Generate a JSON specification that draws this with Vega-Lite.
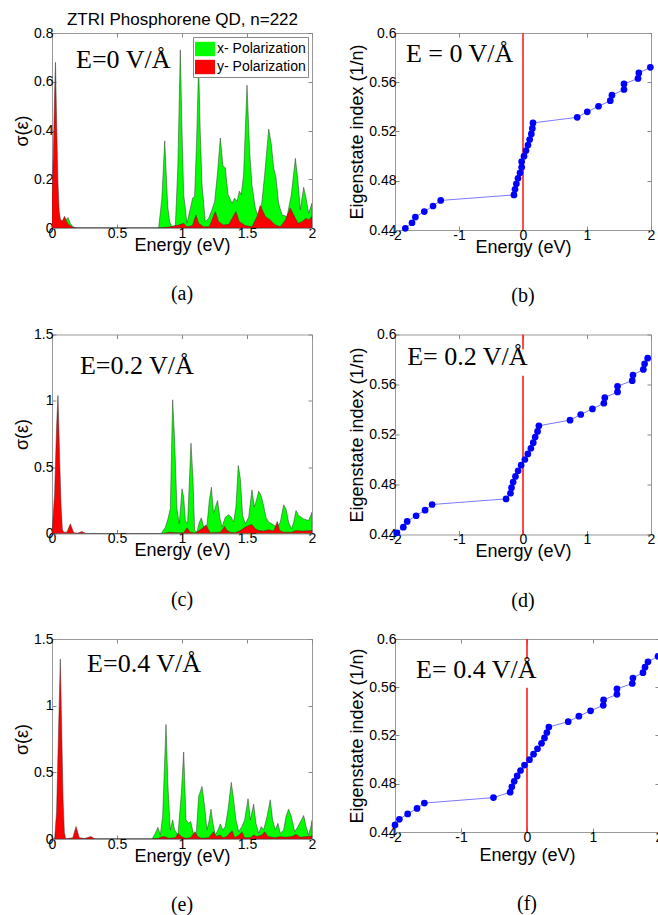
{
"$schema": "https://vega.github.io/schema/vega-lite/v6.json",
"padding": {"left": 13, "top": 10, "right": 0, "bottom": 0},
"background": "white",
"config": {
  "font": "Liberation Sans",
  "view": {"stroke": "#999999", "strokeWidth": 1},
  "axis": {"domain": false, "grid": false, "tickSize": -4, "tickColor": "#888888", "labelPadding": 3, "labelFontSize": 14, "labelFont": "Liberation Sans", "labelColor": "#000000", "titleFontSize": 18, "titleFontWeight": "normal", "titleFont": "Liberation Sans", "titleColor": "#000000", "labelFlush": false, "labelOverlap": false, "titlePadding": 2},
  "axisX": {"titlePadding": -4, "labelPadding": 2},
  "title": {"fontWeight": "normal", "color": "#000000"}
},
"columns": 2,
"bounds": "flush",
"spacing": {"row": 104.5, "column": 83},
"resolve": {"scale": {"color": "independent"}, "legend": {"color": "independent"}},
"datasets": {
  "A": [
    {"p":"x","e":0,"s":0},{"p":"x","e":0.08,"s":0.01},{"p":"x","e":0.1,"s":0.03},{"p":"x","e":0.123,"s":0.043},{"p":"x","e":0.14,"s":0.02},{"p":"x","e":0.16,"s":0.005},{"p":"x","e":0.19,"s":0},{"p":"x","e":0.82,"s":0},{"p":"x","e":0.845,"s":0.12},{"p":"x","e":0.867,"s":0.358},{"p":"x","e":0.89,"s":0.09},{"p":"x","e":0.905,"s":0.026},{"p":"x","e":0.923,"s":0.005},{"p":"x","e":0.949,"s":0.01},{"p":"x","e":0.968,"s":0.25},{"p":"x","e":0.987,"s":0.731},{"p":"x","e":1.0,"s":0.4},{"p":"x","e":1.013,"s":0.137},{"p":"x","e":1.038,"s":0.02},{"p":"x","e":1.064,"s":0.08},{"p":"x","e":1.082,"s":0.123},{"p":"x","e":1.097,"s":0.13},{"p":"x","e":1.112,"s":0.35},{"p":"x","e":1.128,"s":0.67},{"p":"x","e":1.14,"s":0.4},{"p":"x","e":1.154,"s":0.178},{"p":"x","e":1.179,"s":0.026},{"p":"x","e":1.205,"s":0.04},{"p":"x","e":1.231,"s":0.075},{"p":"x","e":1.251,"s":0.109},{"p":"x","e":1.272,"s":0.22},{"p":"x","e":1.295,"s":0.369},{"p":"x","e":1.315,"s":0.254},{"p":"x","e":1.333,"s":0.247},{"p":"x","e":1.354,"s":0.137},{"p":"x","e":1.385,"s":0.102},{"p":"x","e":1.405,"s":0.123},{"p":"x","e":1.423,"s":0.109},{"p":"x","e":1.441,"s":0.151},{"p":"x","e":1.456,"s":0.137},{"p":"x","e":1.474,"s":0.22},{"p":"x","e":1.5,"s":0.586},{"p":"x","e":1.52,"s":0.316},{"p":"x","e":1.538,"s":0.178},{"p":"x","e":1.564,"s":0.082},{"p":"x","e":1.585,"s":0.047},{"p":"x","e":1.61,"s":0.082},{"p":"x","e":1.636,"s":0.22},{"p":"x","e":1.667,"s":0.406},{"p":"x","e":1.687,"s":0.344},{"p":"x","e":1.705,"s":0.247},{"p":"x","e":1.723,"s":0.206},{"p":"x","e":1.743,"s":0.102},{"p":"x","e":1.769,"s":0.054},{"p":"x","e":1.808,"s":0.047},{"p":"x","e":1.841,"s":0.137},{"p":"x","e":1.872,"s":0.286},{"p":"x","e":1.892,"s":0.192},{"p":"x","e":1.91,"s":0.075},{"p":"x","e":1.936,"s":0.167},{"p":"x","e":1.954,"s":0.123},{"p":"x","e":1.974,"s":0.061},{"p":"x","e":2.0,"s":0.102},
    {"p":"y","e":0,"s":0.14},{"p":"y","e":0.01,"s":0.3},{"p":"y","e":0.02,"s":0.55},{"p":"y","e":0.027,"s":0.68},{"p":"y","e":0.035,"s":0.45},{"p":"y","e":0.045,"s":0.2},{"p":"y","e":0.055,"s":0.07},{"p":"y","e":0.065,"s":0.035},{"p":"y","e":0.08,"s":0.03},{"p":"y","e":0.097,"s":0.048},{"p":"y","e":0.11,"s":0.03},{"p":"y","e":0.125,"s":0.015},{"p":"y","e":0.14,"s":0.01},{"p":"y","e":0.16,"s":0.003},{"p":"y","e":0.18,"s":0},{"p":"y","e":0.82,"s":0},{"p":"y","e":0.9,"s":0.004},{"p":"y","e":0.974,"s":0.012},{"p":"y","e":1.013,"s":0.019},{"p":"y","e":1.038,"s":0.005},{"p":"y","e":1.08,"s":0.01},{"p":"y","e":1.107,"s":0.054},{"p":"y","e":1.128,"s":0.019},{"p":"y","e":1.166,"s":0.005},{"p":"y","e":1.21,"s":0.005},{"p":"y","e":1.256,"s":0.068},{"p":"y","e":1.282,"s":0.026},{"p":"y","e":1.32,"s":0.012},{"p":"y","e":1.36,"s":0.015},{"p":"y","e":1.415,"s":0.068},{"p":"y","e":1.441,"s":0.026},{"p":"y","e":1.487,"s":0.01},{"p":"y","e":1.538,"s":0.005},{"p":"y","e":1.577,"s":0.047},{"p":"y","e":1.602,"s":0.093},{"p":"y","e":1.623,"s":0.068},{"p":"y","e":1.641,"s":0.047},{"p":"y","e":1.679,"s":0.033},{"p":"y","e":1.718,"s":0.012},{"p":"y","e":1.756,"s":0.005},{"p":"y","e":1.795,"s":0.033},{"p":"y","e":1.833,"s":0.082},{"p":"y","e":1.859,"s":0.054},{"p":"y","e":1.892,"s":0.019},{"p":"y","e":1.923,"s":0.026},{"p":"y","e":1.954,"s":0.04},{"p":"y","e":1.974,"s":0.033},{"p":"y","e":2.0,"s":0.047}
  ],
  "C": [
    {"p":"x","e":0,"s":0},{"p":"x","e":0.84,"s":0},{"p":"x","e":0.872,"s":0.048},{"p":"x","e":0.892,"s":0.11},{"p":"x","e":0.91,"s":0.186},{"p":"x","e":0.928,"s":1.008},{"p":"x","e":0.943,"s":0.714},{"p":"x","e":0.961,"s":0.186},{"p":"x","e":0.979,"s":0.073},{"p":"x","e":1.0,"s":0.337},{"p":"x","e":1.013,"s":0.274},{"p":"x","e":1.026,"s":0.098},{"p":"x","e":1.043,"s":0.073},{"p":"x","e":1.069,"s":0.681},{"p":"x","e":1.084,"s":0.425},{"p":"x","e":1.097,"s":0.023},{"p":"x","e":1.115,"s":0.01},{"p":"x","e":1.133,"s":0.085},{"p":"x","e":1.149,"s":0.118},{"p":"x","e":1.167,"s":0.048},{"p":"x","e":1.192,"s":0.06},{"p":"x","e":1.21,"s":0.249},{"p":"x","e":1.226,"s":0.349},{"p":"x","e":1.243,"s":0.15},{"p":"x","e":1.261,"s":0.212},{"p":"x","e":1.274,"s":0.249},{"p":"x","e":1.29,"s":0.123},{"p":"x","e":1.308,"s":0.048},{"p":"x","e":1.333,"s":0.123},{"p":"x","e":1.359,"s":0.141},{"p":"x","e":1.379,"s":0.123},{"p":"x","e":1.397,"s":0.085},{"p":"x","e":1.415,"s":0.2},{"p":"x","e":1.433,"s":0.513},{"p":"x","e":1.449,"s":0.412},{"p":"x","e":1.466,"s":0.136},{"p":"x","e":1.487,"s":0.073},{"p":"x","e":1.513,"s":0.123},{"p":"x","e":1.538,"s":0.329},{"p":"x","e":1.556,"s":0.2},{"p":"x","e":1.572,"s":0.249},{"p":"x","e":1.59,"s":0.319},{"p":"x","e":1.608,"s":0.287},{"p":"x","e":1.628,"s":0.211},{"p":"x","e":1.646,"s":0.123},{"p":"x","e":1.667,"s":0.085},{"p":"x","e":1.692,"s":0.073},{"p":"x","e":1.731,"s":0.048},{"p":"x","e":1.756,"s":0.085},{"p":"x","e":1.782,"s":0.216},{"p":"x","e":1.8,"s":0.186},{"p":"x","e":1.82,"s":0.085},{"p":"x","e":1.841,"s":0.035},{"p":"x","e":1.859,"s":0.085},{"p":"x","e":1.877,"s":0.173},{"p":"x","e":1.897,"s":0.136},{"p":"x","e":1.936,"s":0.11},{"p":"x","e":1.974,"s":0.098},{"p":"x","e":1.995,"s":0.148},{"p":"x","e":2.0,"s":0.16},
    {"p":"y","e":0,"s":0},{"p":"y","e":0.02,"s":0.3},{"p":"y","e":0.035,"s":0.8},{"p":"y","e":0.046,"s":1.04},{"p":"y","e":0.058,"s":0.6},{"p":"y","e":0.07,"s":0.2},{"p":"y","e":0.08,"s":0.03},{"p":"y","e":0.09,"s":0.01},{"p":"y","e":0.115,"s":0.01},{"p":"y","e":0.141,"s":0.073},{"p":"y","e":0.167,"s":0.005},{"p":"y","e":0.2,"s":0.003},{"p":"y","e":0.23,"s":0.015},{"p":"y","e":0.26,"s":0},{"p":"y","e":0.84,"s":0},{"p":"y","e":0.87,"s":0.003},{"p":"y","e":0.91,"s":0.01},{"p":"y","e":0.95,"s":0.005},{"p":"y","e":1.013,"s":0.005},{"p":"y","e":1.038,"s":0.043},{"p":"y","e":1.064,"s":0.01},{"p":"y","e":1.1,"s":0.003},{"p":"y","e":1.141,"s":0.028},{"p":"y","e":1.167,"s":0.048},{"p":"y","e":1.185,"s":0.065},{"p":"y","e":1.2,"s":0.035},{"p":"y","e":1.218,"s":0.005},{"p":"y","e":1.295,"s":0.01},{"p":"y","e":1.328,"s":0.053},{"p":"y","e":1.346,"s":0.023},{"p":"y","e":1.37,"s":0.01},{"p":"y","e":1.41,"s":0.005},{"p":"y","e":1.449,"s":0.023},{"p":"y","e":1.487,"s":0.048},{"p":"y","e":1.513,"s":0.06},{"p":"y","e":1.538,"s":0.068},{"p":"y","e":1.564,"s":0.035},{"p":"y","e":1.59,"s":0.023},{"p":"y","e":1.628,"s":0.018},{"p":"y","e":1.667,"s":0.028},{"p":"y","e":1.705,"s":0.018},{"p":"y","e":1.733,"s":0.09},{"p":"y","e":1.751,"s":0.023},{"p":"y","e":1.782,"s":0.01},{"p":"y","e":1.846,"s":0.01},{"p":"y","e":1.877,"s":0.023},{"p":"y","e":1.923,"s":0.018},{"p":"y","e":2.0,"s":0.023}
  ],
  "E": [
    {"p":"x","e":0,"s":0},{"p":"x","e":0.769,"s":0},{"p":"x","e":0.795,"s":0.043},{"p":"x","e":0.815,"s":0.088},{"p":"x","e":0.833,"s":0.03},{"p":"x","e":0.851,"s":0.168},{"p":"x","e":0.877,"s":0.859},{"p":"x","e":0.892,"s":0.394},{"p":"x","e":0.91,"s":0.068},{"p":"x","e":0.928,"s":0.143},{"p":"x","e":0.943,"s":0.068},{"p":"x","e":0.969,"s":0.03},{"p":"x","e":0.995,"s":0.344},{"p":"x","e":1.013,"s":0.653},{"p":"x","e":1.031,"s":0.143},{"p":"x","e":1.051,"s":0.118},{"p":"x","e":1.067,"s":0.131},{"p":"x","e":1.09,"s":0.03},{"p":"x","e":1.11,"s":0.043},{"p":"x","e":1.128,"s":0.319},{"p":"x","e":1.154,"s":0.394},{"p":"x","e":1.174,"s":0.244},{"p":"x","e":1.192,"s":0.068},{"p":"x","e":1.21,"s":0.143},{"p":"x","e":1.223,"s":0.224},{"p":"x","e":1.238,"s":0.118},{"p":"x","e":1.256,"s":0.03},{"p":"x","e":1.277,"s":0.068},{"p":"x","e":1.295,"s":0.113},{"p":"x","e":1.313,"s":0.068},{"p":"x","e":1.333,"s":0.093},{"p":"x","e":1.354,"s":0.219},{"p":"x","e":1.379,"s":0.425},{"p":"x","e":1.397,"s":0.294},{"p":"x","e":1.415,"s":0.143},{"p":"x","e":1.436,"s":0.055},{"p":"x","e":1.461,"s":0.093},{"p":"x","e":1.482,"s":0.143},{"p":"x","e":1.508,"s":0.302},{"p":"x","e":1.526,"s":0.143},{"p":"x","e":1.551,"s":0.261},{"p":"x","e":1.569,"s":0.118},{"p":"x","e":1.59,"s":0.043},{"p":"x","e":1.61,"s":0.093},{"p":"x","e":1.628,"s":0.068},{"p":"x","e":1.654,"s":0.168},{"p":"x","e":1.679,"s":0.294},{"p":"x","e":1.697,"s":0.143},{"p":"x","e":1.718,"s":0.068},{"p":"x","e":1.738,"s":0.118},{"p":"x","e":1.756,"s":0.043},{"p":"x","e":1.782,"s":0.068},{"p":"x","e":1.8,"s":0.168},{"p":"x","e":1.82,"s":0.224},{"p":"x","e":1.841,"s":0.168},{"p":"x","e":1.867,"s":0.055},{"p":"x","e":1.892,"s":0.093},{"p":"x","e":1.936,"s":0.176},{"p":"x","e":1.954,"s":0.093},{"p":"x","e":1.974,"s":0.03},{"p":"x","e":1.995,"s":0.106},{"p":"x","e":2.0,"s":0.14},
    {"p":"y","e":0,"s":0},{"p":"y","e":0.02,"s":0},{"p":"y","e":0.035,"s":0.2},{"p":"y","e":0.05,"s":0.8},{"p":"y","e":0.064,"s":1.35},{"p":"y","e":0.075,"s":0.8},{"p":"y","e":0.085,"s":0.3},{"p":"y","e":0.095,"s":0.05},{"p":"y","e":0.105,"s":0},{"p":"y","e":0.16,"s":0.01},{"p":"y","e":0.185,"s":0.093},{"p":"y","e":0.21,"s":0.01},{"p":"y","e":0.25,"s":0.003},{"p":"y","e":0.3,"s":0.018},{"p":"y","e":0.33,"s":0},{"p":"y","e":0.77,"s":0},{"p":"y","e":0.82,"s":0.005},{"p":"y","e":0.833,"s":0.013},{"p":"y","e":0.86,"s":0.018},{"p":"y","e":0.9,"s":0.005},{"p":"y","e":0.95,"s":0.01},{"p":"y","e":0.969,"s":0.043},{"p":"y","e":0.995,"s":0.018},{"p":"y","e":1.025,"s":0.005},{"p":"y","e":1.065,"s":0.01},{"p":"y","e":1.1,"s":0.055},{"p":"y","e":1.12,"s":0.018},{"p":"y","e":1.15,"s":0.005},{"p":"y","e":1.205,"s":0.01},{"p":"y","e":1.243,"s":0.055},{"p":"y","e":1.26,"s":0.018},{"p":"y","e":1.295,"s":0.03},{"p":"y","e":1.313,"s":0.01},{"p":"y","e":1.345,"s":0.018},{"p":"y","e":1.385,"s":0.063},{"p":"y","e":1.405,"s":0.01},{"p":"y","e":1.441,"s":0.03},{"p":"y","e":1.461,"s":0.055},{"p":"y","e":1.482,"s":0.01},{"p":"y","e":1.525,"s":0.01},{"p":"y","e":1.551,"s":0.03},{"p":"y","e":1.577,"s":0.018},{"p":"y","e":1.615,"s":0.03},{"p":"y","e":1.636,"s":0.055},{"p":"y","e":1.662,"s":0.018},{"p":"y","e":1.718,"s":0.01},{"p":"y","e":1.756,"s":0.018},{"p":"y","e":1.795,"s":0.013},{"p":"y","e":1.846,"s":0.018},{"p":"y","e":1.877,"s":0.035},{"p":"y","e":1.91,"s":0.013},{"p":"y","e":1.96,"s":0.018},{"p":"y","e":2.0,"s":0.023}
  ],
  "B": [
    {"e":-1.839,"n":0.4414},{"e":-1.734,"n":0.4459},{"e":-1.682,"n":0.4505},{"e":-1.542,"n":0.455},{"e":-1.406,"n":0.4595},{"e":-1.286,"n":0.464},{"e":-0.141,"n":0.4685},{"e":-0.125,"n":0.473},{"e":-0.104,"n":0.4775},{"e":-0.078,"n":0.482},{"e":-0.047,"n":0.4865},{"e":-0.021,"n":0.491},{"e":-0.021,"n":0.4955},{"e":0.016,"n":0.5},{"e":0.047,"n":0.5045},{"e":0.078,"n":0.509},{"e":0.104,"n":0.5135},{"e":0.13,"n":0.518},{"e":0.146,"n":0.5225},{"e":0.156,"n":0.527},{"e":0.847,"n":0.5315},{"e":1.004,"n":0.536},{"e":1.18,"n":0.5405},{"e":1.364,"n":0.545},{"e":1.39,"n":0.5495},{"e":1.578,"n":0.5541},{"e":1.578,"n":0.5586},{"e":1.797,"n":0.5631},{"e":1.81,"n":0.5676},{"e":1.99,"n":0.5721}
  ],
  "D": [
    {"e":-1.97,"n":0.4414},{"e":-1.87,"n":0.4459},{"e":-1.81,"n":0.4505},{"e":-1.67,"n":0.455},{"e":-1.53,"n":0.4595},{"e":-1.42,"n":0.464},{"e":-0.264,"n":0.4685},{"e":-0.196,"n":0.473},{"e":-0.18,"n":0.4775},{"e":-0.154,"n":0.482},{"e":-0.118,"n":0.4865},{"e":-0.076,"n":0.491},{"e":-0.029,"n":0.4955},{"e":0.029,"n":0.5},{"e":0.076,"n":0.5045},{"e":0.123,"n":0.509},{"e":0.16,"n":0.5135},{"e":0.19,"n":0.518},{"e":0.227,"n":0.5225},{"e":0.248,"n":0.527},{"e":0.735,"n":0.5315},{"e":0.902,"n":0.536},{"e":1.085,"n":0.5405},{"e":1.263,"n":0.545},{"e":1.278,"n":0.5495},{"e":1.477,"n":0.5541},{"e":1.477,"n":0.5586},{"e":1.707,"n":0.5631},{"e":1.718,"n":0.5676},{"e":1.88,"n":0.5721},{"e":1.9,"n":0.5766},{"e":1.948,"n":0.5811}
  ],
  "F": [
    {"e":-2.0,"n":0.4459},{"e":-1.934,"n":0.4505},{"e":-1.808,"n":0.455},{"e":-1.666,"n":0.4595},{"e":-1.555,"n":0.464},{"e":-0.508,"n":0.4685},{"e":-0.255,"n":0.473},{"e":-0.23,"n":0.4775},{"e":-0.194,"n":0.482},{"e":-0.149,"n":0.4865},{"e":-0.098,"n":0.491},{"e":-0.038,"n":0.4955},{"e":0.038,"n":0.5},{"e":0.099,"n":0.5045},{"e":0.159,"n":0.509},{"e":0.22,"n":0.5135},{"e":0.265,"n":0.518},{"e":0.301,"n":0.5225},{"e":0.331,"n":0.527},{"e":0.624,"n":0.5315},{"e":0.786,"n":0.536},{"e":0.963,"n":0.5405},{"e":1.155,"n":0.545},{"e":1.16,"n":0.5495},{"e":1.363,"n":0.5541},{"e":1.363,"n":0.5586},{"e":1.595,"n":0.5631},{"e":1.605,"n":0.5676},{"e":1.757,"n":0.5721},{"e":1.788,"n":0.5766},{"e":1.833,"n":0.5811},{"e":1.985,"n":0.5856}
  ]
},
"concat": [
  {
    "width": 260, "height": 195,
    "title": {"text": "(a)", "orient": "bottom", "font": "Liberation Serif", "fontSize": 20, "fontWeight": "normal", "offset": 30},
    "resolve": {"axis": {"x": "independent", "y": "independent"}},
    "layer": [
      {"data": {"name": "A"}, "mark": {"type": "area", "stroke": "#333333", "strokeWidth": 0.5, "clip": true},
       "encoding": {
         "x": {"field": "e", "type": "quantitative", "scale": {"domain": [0, 2], "nice": false}, "axis": {"values": [0, 0.5, 1, 1.5, 2], "format": "~g", "title": "Energy (eV)"}},
         "y": {"field": "s", "type": "quantitative", "stack": null, "scale": {"domain": [0, 0.8], "nice": false}, "axis": {"values": [0, 0.2, 0.4, 0.6, 0.8], "format": "~g", "title": "σ(ε)"}},
         "color": {"field": "p", "type": "nominal", "scale": {"domain": ["x", "y"], "range": ["#00ff00", "#ff0000"]},
           "legend": {"orient": "top-right", "offset": 4, "title": null, "labelExpr": "datum.label == 'x' ? 'x- Polarization' : 'y- Polarization'", "symbolType": "M-1,-0.72H1V0.72H-1Z", "symbolSize": 400, "symbolStrokeWidth": 0, "symbolOpacity": 1, "labelFontSize": 14, "labelFont": "Liberation Sans", "labelColor": "#000000", "strokeColor": "#888888", "fillColor": "white", "padding": 2, "rowPadding": 0, "labelOffset": 2, "symbolOffset": 0}}
       }},
      {"data": {"values": [{"e": 0.185, "s": 0.655, "t": "E=0 V/Å"}]}, "mark": {"type": "text", "font": "Liberation Serif", "fontSize": 26, "align": "left", "baseline": "alphabetic", "color": "#000000"},
       "encoding": {"x": {"field": "e", "type": "quantitative", "axis": {"orient": "top", "labels": false, "values": [0, 0.5, 1, 1.5, 2], "title": "ZTRI Phosphorene QD, n=222", "titleFontSize": 17, "titlePadding": 4}},
                    "y": {"field": "s", "type": "quantitative", "axis": {"orient": "right", "labels": false, "values": [0, 0.2, 0.4, 0.6, 0.8], "title": null}},
                    "text": {"field": "t"}}}
    ]
  },
  {
    "width": 256, "height": 197,
    "title": {"text": "(b)", "orient": "bottom", "font": "Liberation Serif", "fontSize": 20, "fontWeight": "normal", "offset": 30},
    "resolve": {"axis": {"x": "independent", "y": "independent"}},
    "layer": [
      {"data": {"values": [{"e": 0, "n": 0.44, "n2": 0.6}]}, "mark": {"type": "rule", "color": "#ff4d4d", "strokeWidth": 2},
       "encoding": {"x": {"field": "e", "type": "quantitative", "scale": {"domain": [-2, 2], "nice": false}, "axis": {"values": [-2, -1, 0, 1, 2], "labelExpr": "'' + datum.value", "title": "Energy (eV)"}},
                    "y": {"field": "n", "type": "quantitative", "scale": {"domain": [0.44, 0.6], "nice": false, "zero": false}, "axis": {"values": [0.44, 0.48, 0.52, 0.56, 0.6], "labelExpr": "'' + datum.value", "title": "Eigenstate index (1/n)"}},
                    "y2": {"field": "n2"}}},
      {"data": {"name": "B"}, "mark": {"type": "line", "color": "#7a7aff", "strokeWidth": 1},
       "encoding": {"x": {"field": "e", "type": "quantitative", "axis": null}, "y": {"field": "n", "type": "quantitative", "axis": null}, "order": {"field": "n", "type": "quantitative"}}},
      {"data": {"name": "B"}, "mark": {"type": "circle", "color": "#0000ff", "opacity": 1, "size": 45},
       "encoding": {"x": {"field": "e", "type": "quantitative", "axis": null}, "y": {"field": "n", "type": "quantitative", "axis": null}}},
      {"data": {"values": [{"e": -1.83, "n": 0.5768, "t": "E = 0 V/Å"}]}, "mark": {"type": "text", "font": "Liberation Serif", "fontSize": 26, "align": "left", "baseline": "alphabetic", "color": "#000000"},
       "encoding": {"x": {"field": "e", "type": "quantitative", "axis": {"orient": "top", "labels": false, "values": [-2, -1, 0, 1, 2], "title": null}},
                    "y": {"field": "n", "type": "quantitative", "axis": {"orient": "right", "labels": false, "values": [0.44, 0.48, 0.52, 0.56, 0.6], "title": null}},
                    "text": {"field": "t"}}}
    ]
  },
  {
    "width": 260, "height": 199,
    "title": {"text": "(c)", "orient": "bottom", "font": "Liberation Serif", "fontSize": 20, "fontWeight": "normal", "offset": 30},
    "resolve": {"axis": {"x": "independent", "y": "independent"}},
    "layer": [
      {"data": {"name": "C"}, "mark": {"type": "area", "stroke": "#333333", "strokeWidth": 0.5, "clip": true},
       "encoding": {
         "x": {"field": "e", "type": "quantitative", "scale": {"domain": [0, 2], "nice": false}, "axis": {"values": [0, 0.5, 1, 1.5, 2], "format": "~g", "title": "Energy (eV)"}},
         "y": {"field": "s", "type": "quantitative", "stack": null, "scale": {"domain": [0, 1.5], "nice": false}, "axis": {"values": [0, 0.5, 1, 1.5], "format": "~g", "title": "σ(ε)"}},
         "color": {"field": "p", "type": "nominal", "scale": {"domain": ["x", "y"], "range": ["#00ff00", "#ff0000"]}, "legend": null}
       }},
      {"data": {"values": [{"e": 0.215, "s": 1.206, "t": "E=0.2 V/Å"}]}, "mark": {"type": "text", "font": "Liberation Serif", "fontSize": 26, "align": "left", "baseline": "alphabetic", "color": "#000000"},
       "encoding": {"x": {"field": "e", "type": "quantitative", "axis": {"orient": "top", "labels": false, "values": [0, 0.5, 1, 1.5, 2], "title": null}},
                    "y": {"field": "s", "type": "quantitative", "axis": {"orient": "right", "labels": false, "values": [0, 0.5, 1, 1.5], "title": null}},
                    "text": {"field": "t"}}}
    ]
  },
  {
    "width": 256, "height": 200,
    "title": {"text": "(d)", "orient": "bottom", "font": "Liberation Serif", "fontSize": 20, "fontWeight": "normal", "offset": 30},
    "resolve": {"axis": {"x": "independent", "y": "independent"}},
    "layer": [
      {"data": {"values": [{"e": 0, "n": 0.44, "n2": 0.567}, {"e": 0, "n": 0.588, "n2": 0.6}]}, "mark": {"type": "rule", "color": "#ff1a1a", "strokeWidth": 1.6},
       "encoding": {"x": {"field": "e", "type": "quantitative", "scale": {"domain": [-2, 2], "nice": false}, "axis": {"values": [-2, -1, 0, 1, 2], "labelExpr": "'' + datum.value", "title": "Energy (eV)"}},
                    "y": {"field": "n", "type": "quantitative", "scale": {"domain": [0.44, 0.6], "nice": false, "zero": false}, "axis": {"values": [0.44, 0.48, 0.52, 0.56, 0.6], "labelExpr": "'' + datum.value", "title": "Eigenstate index (1/n)"}},
                    "y2": {"field": "n2"}}},
      {"data": {"name": "D"}, "mark": {"type": "line", "color": "#7a7aff", "strokeWidth": 1},
       "encoding": {"x": {"field": "e", "type": "quantitative", "axis": null}, "y": {"field": "n", "type": "quantitative", "axis": null}, "order": {"field": "n", "type": "quantitative"}}},
      {"data": {"name": "D"}, "mark": {"type": "circle", "color": "#0000ff", "opacity": 1, "size": 45},
       "encoding": {"x": {"field": "e", "type": "quantitative", "axis": null}, "y": {"field": "n", "type": "quantitative", "axis": null}}},
      {"data": {"values": [{"e": -1.81, "n": 0.576, "t": "E= 0.2 V/Å"}]}, "mark": {"type": "text", "font": "Liberation Serif", "fontSize": 26, "align": "left", "baseline": "alphabetic", "color": "#000000"},
       "encoding": {"x": {"field": "e", "type": "quantitative", "axis": {"orient": "top", "labels": false, "values": [-2, -1, 0, 1, 2], "title": null}},
                    "y": {"field": "n", "type": "quantitative", "axis": {"orient": "right", "labels": false, "values": [0.44, 0.48, 0.52, 0.56, 0.6], "title": null}},
                    "text": {"field": "t"}}}
    ]
  },
  {
    "width": 260, "height": 200,
    "title": {"text": "(e)", "orient": "bottom", "font": "Liberation Serif", "fontSize": 20, "fontWeight": "normal", "offset": 30},
    "resolve": {"axis": {"x": "independent", "y": "independent"}},
    "layer": [
      {"data": {"name": "E"}, "mark": {"type": "area", "stroke": "#333333", "strokeWidth": 0.5, "clip": true},
       "encoding": {
         "x": {"field": "e", "type": "quantitative", "scale": {"domain": [0, 2], "nice": false}, "axis": {"values": [0, 0.5, 1, 1.5, 2], "format": "~g", "title": "Energy (eV)"}},
         "y": {"field": "s", "type": "quantitative", "stack": null, "scale": {"domain": [0, 1.5], "nice": false}, "axis": {"values": [0, 0.5, 1, 1.5], "format": "~g", "title": "σ(ε)"}},
         "color": {"field": "p", "type": "nominal", "scale": {"domain": ["x", "y"], "range": ["#00ff00", "#ff0000"]}, "legend": null}
       }},
      {"data": {"values": [{"e": 0.27, "s": 1.25, "t": "E=0.4 V/Å"}]}, "mark": {"type": "text", "font": "Liberation Serif", "fontSize": 26, "align": "left", "baseline": "alphabetic", "color": "#000000"},
       "encoding": {"x": {"field": "e", "type": "quantitative", "axis": {"orient": "top", "labels": false, "values": [0, 0.5, 1, 1.5, 2], "title": null}},
                    "y": {"field": "s", "type": "quantitative", "axis": {"orient": "right", "labels": false, "values": [0, 0.5, 1, 1.5], "title": null}},
                    "text": {"field": "t"}}}
    ]
  },
  {
    "width": 264, "height": 193,
    "title": {"text": "(f)", "orient": "bottom", "font": "Liberation Serif", "fontSize": 20, "fontWeight": "normal", "offset": 30},
    "resolve": {"axis": {"x": "independent", "y": "independent"}},
    "layer": [
      {"data": {"values": [{"e": 0, "n": 0.44, "n2": 0.5596}, {"e": 0, "n": 0.5835, "n2": 0.6}]}, "mark": {"type": "rule", "color": "#ff1a1a", "strokeWidth": 1.6},
       "encoding": {"x": {"field": "e", "type": "quantitative", "scale": {"domain": [-2, 2], "nice": false}, "axis": {"values": [-2, -1, 0, 1, 2], "labelExpr": "'' + datum.value", "title": "Energy (eV)", "titlePadding": 2}},
                    "y": {"field": "n", "type": "quantitative", "scale": {"domain": [0.44, 0.6], "nice": false, "zero": false}, "axis": {"values": [0.44, 0.48, 0.52, 0.56, 0.6], "labelExpr": "'' + datum.value", "title": "Eigenstate index (1/n)"}},
                    "y2": {"field": "n2"}}},
      {"data": {"name": "F"}, "mark": {"type": "line", "color": "#7a7aff", "strokeWidth": 1},
       "encoding": {"x": {"field": "e", "type": "quantitative", "axis": null}, "y": {"field": "n", "type": "quantitative", "axis": null}, "order": {"field": "n", "type": "quantitative"}}},
      {"data": {"name": "F"}, "mark": {"type": "circle", "color": "#0000ff", "opacity": 1, "size": 45},
       "encoding": {"x": {"field": "e", "type": "quantitative", "axis": null}, "y": {"field": "n", "type": "quantitative", "axis": null}}},
      {"data": {"values": [{"e": -1.68, "n": 0.5678, "t": "E= 0.4 V/Å"}]}, "mark": {"type": "text", "font": "Liberation Serif", "fontSize": 26, "align": "left", "baseline": "alphabetic", "color": "#000000"},
       "encoding": {"x": {"field": "e", "type": "quantitative", "axis": {"orient": "top", "labels": false, "values": [-2, -1, 0, 1, 2], "title": null}},
                    "y": {"field": "n", "type": "quantitative", "axis": {"orient": "right", "labels": false, "values": [0.44, 0.48, 0.52, 0.56, 0.6], "title": null}},
                    "text": {"field": "t"}}}
    ]
  }
]
}
